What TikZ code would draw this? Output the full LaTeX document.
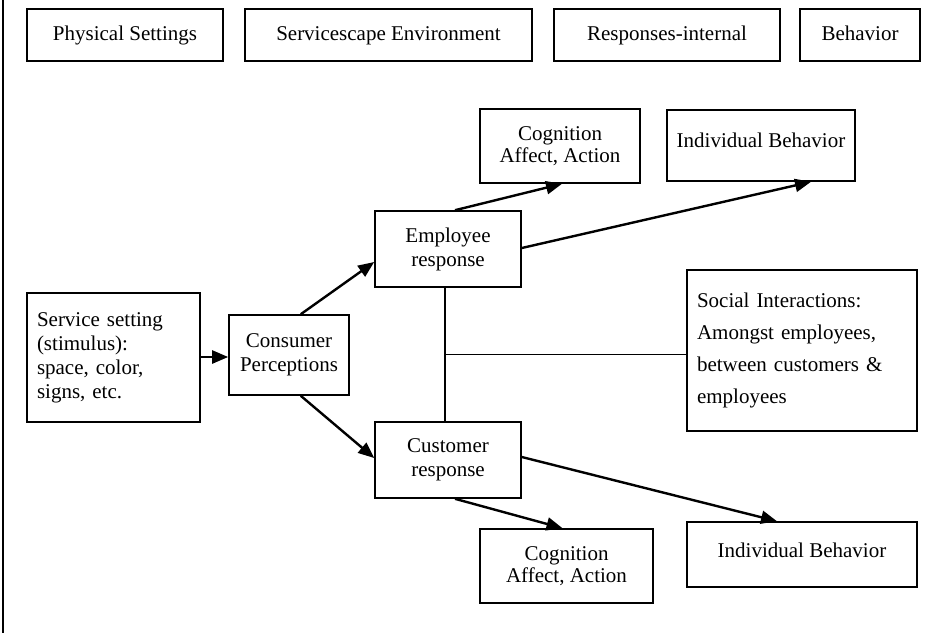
\documentclass[tikz,border=0pt]{standalone}
\usepackage{fontspec}
\setmainfont{Liberation Serif}
\usetikzlibrary{arrows.meta,calc}
\begin{document}
\begin{tikzpicture}[x=1pt,y=-1pt,
  box/.style={draw=black,line width=1.6pt,inner sep=0pt,align=center,
    font=\fontsize{21}{24}\selectfont},
  one/.style={text height=15pt,text depth=5pt},
  arr/.style={line width=2.4pt,-{Triangle[length=16pt,width=13pt]}},
  ln/.style={line width=1.6pt}]
\useasboundingbox (0,0) rectangle (939,633);
\coordinate (ftop) at (3,0);
\coordinate (fbot) at (3,633);
\draw[line width=1.8pt] (ftop) -- (fbot);
% header boxes
\node[box,one,minimum width=196pt,minimum height=52pt] (ps) at (125,35) {Physical Settings};
\node[box,one,minimum width=287pt,minimum height=52pt] (se) at (388.5,35) {Servicescape Environment};
\node[box,one,minimum width=226pt,minimum height=52pt] (ri) at (667,35) {Responses-internal};
\node[box,one,minimum width=120pt,minimum height=52pt] (bh) at (860,35) {Behavior};
% diagram
\node[box,minimum width=160pt,minimum height=74pt] (cog1) at (560,146) {Cognition\\[-2pt]Affect, Action};
\node[box,text height=15pt,text depth=11pt,minimum width=188pt,minimum height=71pt] (ib1) at (761,145.5) {Individual Behavior};
\node[box,minimum width=146pt,minimum height=76pt] (emp) at (448,249) {Employee\\response};
\node[box,minimum width=173pt,minimum height=129pt,align=left,text width=153pt] (ss) at (113.5,357.5) {Service setting\\(stimulus):\\space, color,\\signs, etc.};
\node[box,minimum width=120pt,minimum height=80pt] (cp) at (289,355) {Consumer\\Perceptions};
\node[box,minimum width=230pt,minimum height=161pt,align=left,text width=210pt,font=\fontsize{21}{32}\selectfont] (si) at (802,350.5) {Social Interactions:\\Amongst employees,\\between customers \&\\employees};
\node[box,minimum width=146pt,minimum height=76pt] (cus) at (448,460) {Customer\\response};
\node[box,minimum width=173pt,minimum height=74pt] (cog2) at (566.5,566) {Cognition\\[-2pt]Affect, Action};
\node[box,text height=15pt,text depth=9pt,minimum width=230pt,minimum height=65pt] (ib2) at (802,554.5) {Individual Behavior};
% connectors
\draw[arr] (ss.east |- 0,357) -- (cp.west |- 0,357);
\draw[arr] ([xshift=-49pt]cp.north east) -- ([yshift=-13pt]emp.west);
\draw[arr] ([xshift=-49pt]cp.south east) -- ([yshift=2pt]emp.west |- cus.west);
\draw[arr] ([xshift=7pt]emp.north) -- ([xshift=2pt]cog1.south);
\draw[arr] ([yshift=1pt]emp.east) -- ([xshift=50pt]ib1.south);
\draw[ln] ([xshift=-3pt]emp.south) -- ([xshift=-3pt]cus.north);
\coordinate (mid) at ($([xshift=-3pt]emp.south)!0.5!([xshift=-3pt]cus.north)$);
\draw[ln] (mid) -- (si.west |- mid);
\draw[arr] ([yshift=3pt]cus.east) -- ([xshift=-25pt]ib2.north);
\draw[arr] ([xshift=7pt]cus.south) -- ([xshift=-4pt]cog2.north);
\end{tikzpicture}
\end{document}
